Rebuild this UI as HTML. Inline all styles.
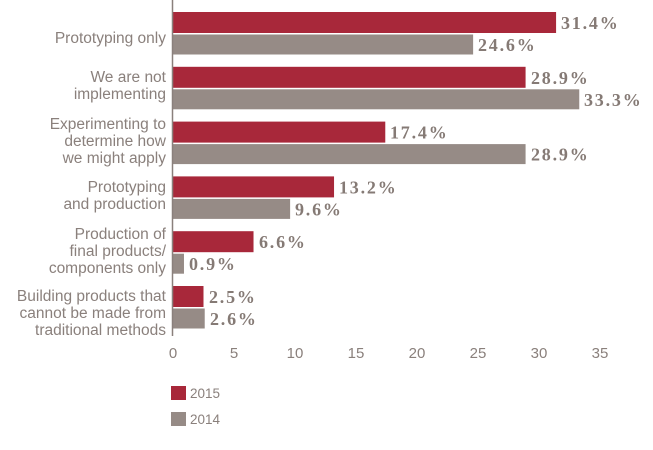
<!DOCTYPE html>
<html><head><style>body{margin:0;background:#fff}</style></head><body>
<svg width="653" height="445" xmlns="http://www.w3.org/2000/svg" font-family="Liberation Sans, sans-serif">
<g fill="#8a807c" font-size="15.5" text-anchor="end">
<text x="166" y="43">Prototyping only</text>
<text x="166" y="82">We are not</text><text x="166" y="99">implementing</text>
<text x="166" y="129">Experimenting to</text><text x="166" y="146">determine how</text><text x="166" y="163">we might apply</text>
<text x="166" y="192">Prototyping</text><text x="166" y="209">and production</text>
<text x="166" y="239">Production of</text><text x="166" y="256">final products/</text><text x="166" y="273">components only</text>
<text x="166" y="301">Building products that</text><text x="166" y="318">cannot be made from</text><text x="166" y="335">traditional methods</text>
</g>
<g fill="#a8283a">
<rect x="173" y="12" width="383.08" height="21"/>
<rect x="173" y="66.8" width="352.58" height="21"/>
<rect x="173" y="121.6" width="212.28" height="21"/>
<rect x="173" y="176.4" width="161.04" height="21"/>
<rect x="173" y="231.2" width="80.52" height="21"/>
<rect x="173" y="286" width="30.5" height="21"/>
</g>
<g fill="#968b86">
<rect x="173" y="34.5" width="300.12" height="20"/>
<rect x="173" y="89.3" width="406.26" height="20"/>
<rect x="173" y="144.1" width="352.58" height="20"/>
<rect x="173" y="198.9" width="117.12" height="20"/>
<rect x="173" y="253.7" width="10.98" height="20"/>
<rect x="173" y="308.5" width="31.72" height="20"/>
</g>
<g font-family="Liberation Serif, serif" font-weight="bold" font-size="18" letter-spacing="1.8" fill="#857a75">
<text x="561" y="29">31.4%</text>
<text x="478" y="51">24.6%</text>
<text x="531" y="83.8">28.9%</text>
<text x="584" y="105.8">33.3%</text>
<text x="390" y="138.6">17.4%</text>
<text x="531" y="160.6">28.9%</text>
<text x="339" y="193.4">13.2%</text>
<text x="295" y="215.4">9.6%</text>
<text x="259" y="248.2">6.6%</text>
<text x="189" y="270.2">0.9%</text>
<text x="209" y="303">2.5%</text>
<text x="210" y="325">2.6%</text>
</g>
<line x1="172.5" y1="0" x2="172.5" y2="336" stroke="#8a807c" stroke-width="1.5"/>
<g fill="#8a807c" font-size="15" text-anchor="middle">
<text x="173" y="358">0</text><text x="234" y="358">5</text><text x="295" y="358">10</text><text x="356" y="358">15</text><text x="417" y="358">20</text><text x="478" y="358">25</text><text x="539" y="358">30</text><text x="600" y="358">35</text>
</g>
<rect x="171" y="386" width="15" height="14" fill="#a8283a"/>
<rect x="171" y="412" width="15" height="14" fill="#968b86"/>
<g fill="#8a807c" font-size="13.5"><text x="190" y="398">2015</text><text x="190" y="424">2014</text></g>
</svg>
</body></html>
